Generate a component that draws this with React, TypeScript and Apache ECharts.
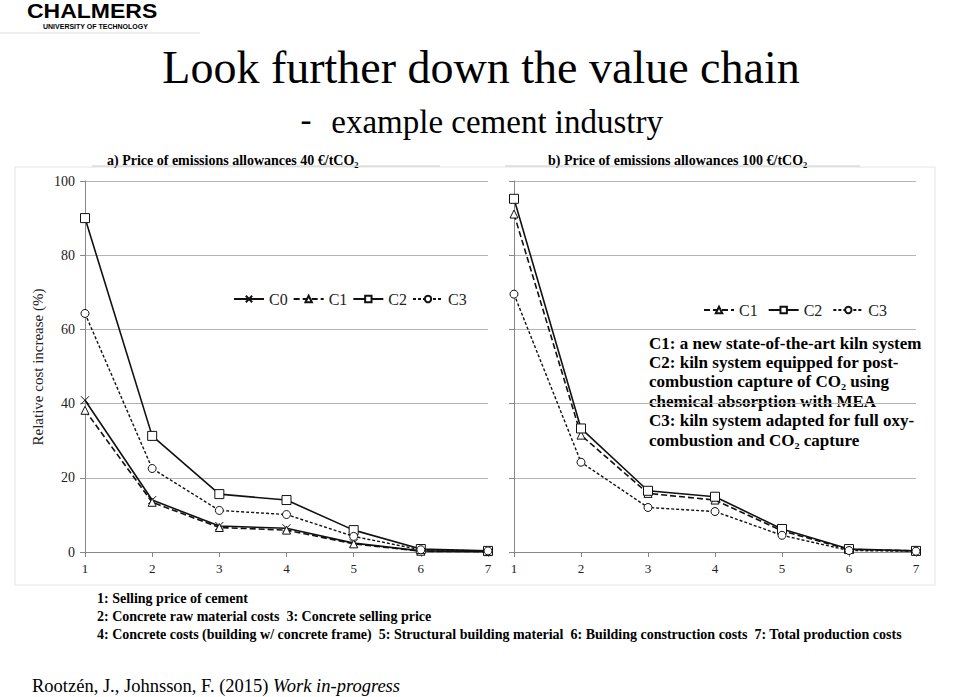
import React, { useEffect, useRef } from "react";
import * as echarts from "echarts";

const categories = ["1", "2", "3", "4", "5", "6", "7"];
const yTicks = { min: 0, max: 100, interval: 20 };

// a) 40 €/tCO2
const aC0 = [40.9, 14.0, 7.0, 6.4, 2.4, 0.3, 0.1];
const aC1 = [38.2, 13.4, 6.6, 5.9, 2.2, 0.2, 0.1];
const aC2 = [90.0, 31.3, 15.6, 14.0, 5.9, 0.8, 0.3];
const aC3 = [64.3, 22.5, 11.2, 10.1, 4.2, 0.6, 0.3];

// b) 100 €/tCO2
const bC1 = [91.1, 31.5, 15.8, 14.0, 5.7, 0.7, 0.3];
const bC2 = [95.2, 33.3, 16.5, 14.9, 6.2, 0.8, 0.3];
const bC3 = [69.5, 24.2, 12.0, 10.9, 4.5, 0.4, 0.2];

const notes = [
  "1: Selling price of cement",
  "2: Concrete raw material costs  3: Concrete selling price",
  "4: Concrete costs (building w/ concrete frame)  5: Structural building material  6: Building construction costs  7: Total production costs",
];

const annotation = [
  "C1: a new state-of-the-art kiln system",
  "C2: kiln system equipped for post-",
  "combustion capture of CO₂ using",
  "chemical absorption with MEA",
  "C3: kiln system adapted for full oxy-",
  "combustion and CO₂ capture",
];

const SERIF = '"Liberation Serif", "Times New Roman", serif';
const INK = "#111";

const styles: Record<string, any> = {
  C0: { symbol: "path://M0 0L10 10M10 0L0 10", symbolSize: 8, line: "solid", width: 1.6 },
  C1: { symbol: "triangle", symbolSize: 8, line: [6, 3], width: 1.6 },
  C2: { symbol: "rect", symbolSize: 9, line: "solid", width: 1.6 },
  C3: { symbol: "circle", symbolSize: 8, line: [3, 2], width: 1.4 },
};

function mk(name: string, data: number[], idx: number) {
  const s = styles[name];
  return {
    name,
    type: "line",
    xAxisIndex: idx,
    yAxisIndex: idx,
    data,
    symbol: s.symbol,
    symbolSize: s.symbolSize,
    showAllSymbol: true,
    lineStyle: { color: INK, width: s.width, type: s.line },
    itemStyle: { color: name === "C0" ? INK : "#fff", borderColor: INK, borderWidth: 1 },
    emphasis: { disabled: true },
  };
}

function axisX(gridIndex: number) {
  return {
    type: "category",
    gridIndex,
    data: categories,
    boundaryGap: false,
    axisLine: { lineStyle: { color: "#888" } },
    axisTick: { show: true, length: 5, lineStyle: { color: "#888" } },
    axisLabel: { fontFamily: SERIF, fontSize: 13, color: "#222", margin: 10 },
    splitLine: { show: false },
  };
}

function axisY(gridIndex: number, labels: boolean) {
  return {
    type: "value",
    gridIndex,
    min: yTicks.min,
    max: yTicks.max,
    interval: yTicks.interval,
    axisLine: { show: true, lineStyle: { color: "#888" } },
    axisTick: { show: true, length: 5, lineStyle: { color: "#888" } },
    axisLabel: { show: labels, fontFamily: SERIF, fontSize: 14, color: "#222", margin: 10 },
    splitLine: { show: true, lineStyle: { color: "#b4b4b4", width: 1 } },
  };
}

export default function App() {
  const ref = useRef<HTMLDivElement>(null);
  useEffect(() => {
    if (!ref.current) return;
    const chart = echarts.init(ref.current, null, { renderer: "svg" });
    const text = (t: string, x: number, y: number, font: string, extra: any = {}) => ({
      type: "text",
      x,
      y,
      style: { text: t, font, fill: "#000", textVerticalAlign: "middle", ...extra },
    });
    const graphics: any[] = [
      { type: "rect", shape: { x: 15, y: 167, width: 920, height: 418 }, style: { fill: "none", stroke: "#e4e4e4", lineWidth: 1 }, z: -10 },
      {
        type: "text",
        x: 27,
        y: 1,
        scaleX: 1.15,
        style: { text: "CHALMERS", font: 'bold 20px "Liberation Sans", Arial, sans-serif', fill: "#000", textVerticalAlign: "top" },
      },
      text("UNIVERSITY OF TECHNOLOGY", 43, 26, 'bold 7px "Liberation Sans", Arial, sans-serif'),
      { type: "line", shape: { x1: 0, y1: 33, x2: 200, y2: 33 }, style: { stroke: "#ddd", lineWidth: 1 } },
      text("Look further down the value chain", 481, 67, `46px ${SERIF}`, { textAlign: "center" }),
      text("-", 306, 120, `33px ${SERIF}`, { textAlign: "center" }),
      text("example cement industry", 663, 122, `33px ${SERIF}`, { textAlign: "right" }),
      text("a) Price of emissions allowances 40 €/tCO₂", 107, 160, `bold 14px ${SERIF}`),
      { type: "line", shape: { x1: 92, y1: 166, x2: 440, y2: 166 }, style: { stroke: "#ccc", lineWidth: 1 } },
      text("b) Price of emissions allowances 100 €/tCO₂", 548, 160, `bold 14px ${SERIF}`),
      { type: "line", shape: { x1: 505, y1: 166, x2: 860, y2: 166 }, style: { stroke: "#ccc", lineWidth: 1 } },
      {
        type: "text",
        x: 38,
        y: 367,
        rotation: Math.PI / 2,
        style: { text: "Relative cost increase (%)", font: `15px ${SERIF}`, fill: "#222", textAlign: "center", textVerticalAlign: "middle" },
      },
      ...annotation.map((t, i) => text(t, 649, 343 + i * 19.4, `bold 17px ${SERIF}`)),
      ...notes.map((t, i) => text(t, 97, 598 + i * 18, `bold 14px ${SERIF}`)),
      {
        type: "text",
        x: 32,
        y: 686,
        style: {
          text: "{n|Rootzén, J., Johnsson, F. (2015) }{i|Work in-progress}",
          textVerticalAlign: "middle",
          rich: {
            n: { fontFamily: SERIF, fontSize: 18.5, color: "#000" },
            i: { fontFamily: SERIF, fontSize: 18.5, fontStyle: "italic", color: "#000" },
          },
        },
      },
    ];
    chart.setOption({
      animation: false,
      backgroundColor: "#fff",
      grid: [
        { left: 85, top: 181, width: 403, height: 371 },
        { left: 514, top: 181, width: 402, height: 371 },
      ],
      xAxis: [axisX(0), axisX(1)],
      yAxis: [axisY(0, true), axisY(1, false)],
      legend: [
        {
          data: ["C0", "C1", "C2", "C3"],
          left: 228,
          top: 286,
          itemWidth: 30,
          itemHeight: 8,
          itemGap: 5,
          textStyle: { fontFamily: SERIF, fontSize: 16, color: "#222" },
          selectedMode: false,
        },
        {
          data: ["C1", "C2", "C3"],
          left: 698,
          top: 297,
          itemWidth: 30,
          itemHeight: 8,
          itemGap: 10,
          textStyle: { fontFamily: SERIF, fontSize: 16, color: "#222" },
          selectedMode: false,
        },
      ],
      series: [
        mk("C0", aC0, 0),
        mk("C1", aC1, 0),
        mk("C2", aC2, 0),
        mk("C3", aC3, 0),
        mk("C1", bC1, 1),
        mk("C2", bC2, 1),
        mk("C3", bC3, 1),
      ],
      graphic: graphics,
    });
    return () => chart.dispose();
  }, []);
  return <div ref={ref} style={{ position: "absolute", left: 0, top: 0, width: 960, height: 697 }} />;
}
